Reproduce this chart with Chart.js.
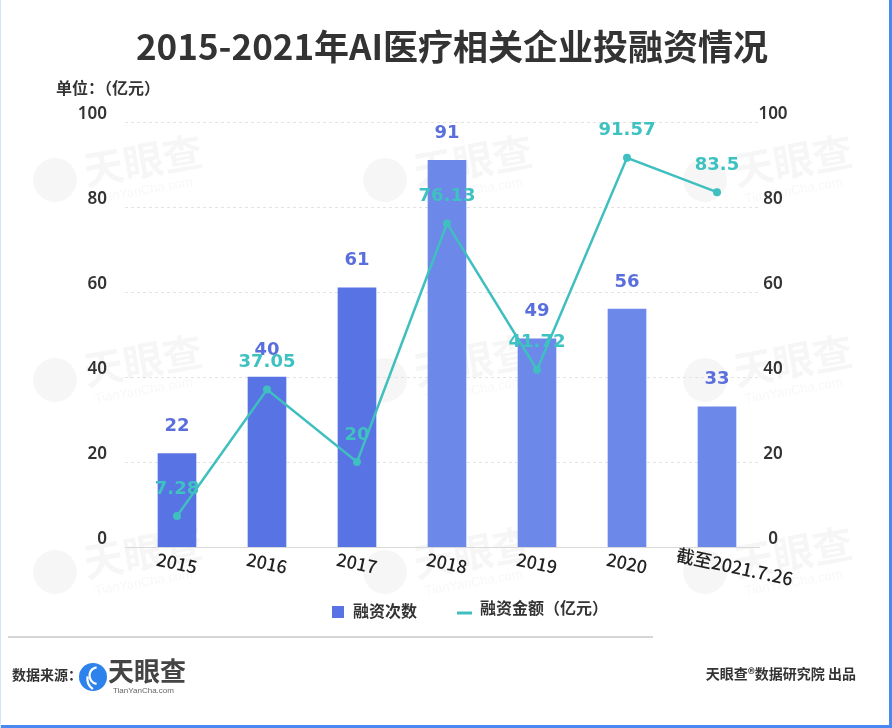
<!DOCTYPE html>
<html>
<head>
<meta charset="utf-8">
<script src="https://cdn.jsdelivr.net/npm/chart.js@4.4.1/dist/chart.umd.min.js"></script>
<style>
  html, body { margin: 0; padding: 0; background: #ffffff; }
  canvas { display: block; }
</style>
</head>
<body>
<canvas id="c" width="892" height="728"></canvas>
<script>
// ---- data ----
const titleText = '2015-2021年AI医疗相关企业投融资情况';
const unitText = '单位：（亿元）';
const categories = ['2015', '2016', '2017', '2018', '2019', '2020', '截至2021.7.26'];
const financingCounts = [22, 40, 61, 91, 49, 56, 33];
const financingAmounts = [7.28, 37.05, 20, 76.13, 41.72, 91.57, 83.5];
const amountLabels = ['7.28', '37.05', '20', '76.13', '41.72', '91.57', '83.5'];
const seriesNames = ['融资次数', '融资金额（亿元）'];
const sourceLabel = '数据来源：';
const brandName = '天眼查';
const brandUrl = 'TianYanCha.com';
const creditText = '天眼查®数据研究院 出品';

const CJK = "'Noto Sans CJK SC', 'Noto Sans', sans-serif";
const BAR_DARK = '#5873e3';
const BAR_LIGHT = '#6c88e9';
const TEAL = '#3fbfbf';

const barColors = financingCounts.map((v, i) => i < 3 ? BAR_DARK : BAR_LIGHT);

function drawLogo(ctx, cx, cy, r, color, alpha) {
  ctx.save();
  ctx.globalAlpha = alpha;
  ctx.fillStyle = color;
  ctx.beginPath();
  ctx.arc(cx, cy, r, 0, Math.PI * 2);
  ctx.fill();
  ctx.globalAlpha = 1;
  ctx.strokeStyle = '#ffffff';
  ctx.lineWidth = Math.max(1.5, r * 0.16);
  ctx.beginPath();
  ctx.arc(cx + r * 0.35, cy - r * 0.1, r * 0.6, Math.PI * 0.55, Math.PI * 1.45);
  ctx.stroke();
  ctx.beginPath();
  ctx.arc(cx + r * 0.55, cy + r * 0.1, r * 0.95, Math.PI * 0.7, Math.PI * 1.05);
  ctx.stroke();
  ctx.restore();
}

const decorPlugin = {
  id: 'decor',
  beforeDraw(chart) {
    const ctx = chart.ctx;
    ctx.save();
    ctx.fillStyle = '#ffffff';
    ctx.fillRect(0, 0, chart.width, chart.height);

    // watermarks
    const cols = [55, 385, 705];
    const rows = [180, 380, 572];
    rows.forEach(wy => cols.forEach(wx => {
      ctx.save();
      ctx.translate(wx, wy);
      ctx.rotate(-10 * Math.PI / 180);
      ctx.globalAlpha = 0.035;
      ctx.fillStyle = '#000';
      ctx.beginPath();
      ctx.arc(0, 0, 22, 0, Math.PI * 2);
      ctx.fill();
      ctx.font = "bold 40px " + CJK;
      ctx.textBaseline = 'middle';
      ctx.textAlign = 'left';
      ctx.fillText(brandName, 30, -4);
      ctx.font = "13px 'Liberation Sans', sans-serif";
      ctx.fillText(brandUrl, 36, 26);
      ctx.restore();
    }));

    // title
    ctx.fillStyle = '#333333';
    ctx.font = "bold 35px " + CJK;
    ctx.textAlign = 'center';
    ctx.textBaseline = 'middle';
    ctx.fillText(titleText, 452, 47);

    // unit
    ctx.font = "bold 16px " + CJK;
    ctx.textAlign = 'left';
    ctx.fillStyle = '#333333';
    ctx.fillText(unitText, 56, 88);

    // separator
    ctx.strokeStyle = '#d6d6d6';
    ctx.lineWidth = 2;
    ctx.beginPath();
    ctx.moveTo(8, 637);
    ctx.lineTo(653, 637);
    ctx.stroke();

    // footer
    ctx.fillStyle = '#333333';
    ctx.font = "bold 14px " + CJK;
    ctx.textAlign = 'left';
    ctx.fillText(sourceLabel, 12, 675);
    drawLogo(ctx, 93, 677, 14, '#2d82ec', 1);
    ctx.fillStyle = '#444444';
    ctx.font = "bold 26px " + CJK;
    ctx.fillText(brandName, 108, 671);
    ctx.fillStyle = '#666666';
    ctx.font = "8px 'Liberation Sans', sans-serif";
    ctx.fillText(brandUrl, 113, 691);
    ctx.fillStyle = '#333333';
    ctx.font = "bold 14px " + CJK;
    ctx.textAlign = 'right';
    ctx.fillText(creditText, 856, 674);

    // frame
    ctx.fillStyle = '#4a8af0';
    ctx.fillRect(889, 0, 3, 728);
    ctx.fillRect(0, 725, 892, 3);
    ctx.fillStyle = '#d4e4fb';
    ctx.fillRect(0, 0, 1, 728);

    // legend
    const ds = chart.data.datasets;
    ctx.fillStyle = BAR_DARK;
    ctx.fillRect(332, 606, 12, 12);
    ctx.fillStyle = '#333333';
    ctx.font = "bold 16px " + CJK;
    ctx.textAlign = 'left';
    ctx.textBaseline = 'middle';
    ctx.fillText(ds[0].label, 353, 611);
    ctx.strokeStyle = TEAL;
    ctx.lineWidth = 3;
    ctx.beginPath();
    ctx.moveTo(457, 613);
    ctx.lineTo(472, 613);
    ctx.stroke();
    ctx.fillText(ds[1].label, 480, 608);

    ctx.restore();
  },
  beforeDatasetsDraw(chart) {
    const ctx = chart.ctx;
    const y = chart.scales.y;
    const y1 = chart.scales.y1;
    const area = chart.chartArea;
    ctx.save();
    y.ticks.forEach(t => {
      const py = Math.round(y.getPixelForValue(t.value)) + 0.5;
      ctx.strokeStyle = t.value === 0 ? '#d9d9d9' : '#e3e3e3';
      ctx.lineWidth = 1;
      ctx.setLineDash(t.value === 0 ? [] : [3, 3]);
      ctx.beginPath();
      ctx.moveTo(area.left - 7, py);
      ctx.lineTo(area.right - 2, py);
      ctx.stroke();
    });
    ctx.setLineDash([]);
    ctx.fillStyle = '#333333';
    ctx.font = "600 17px 'Noto Sans', sans-serif";
    ctx.textBaseline = 'middle';
    y.ticks.forEach(t => {
      const py = y.getPixelForValue(t.value) - 8;
      ctx.textAlign = 'right';
      ctx.fillText(String(t.value), 107, py);
    });
    y1.ticks.forEach(t => {
      const py = y1.getPixelForValue(t.value) - 8;
      ctx.textAlign = 'center';
      ctx.fillText(String(t.value), 773, py);
    });

    // rotated x labels
    const x = chart.scales.x;
    ctx.fillStyle = '#222222';
    ctx.font = "500 18px " + CJK;
    categories.forEach((c, i) => {
      const px = x.getPixelForValue(i);
      ctx.save();
      ctx.translate(px, 563);
      ctx.rotate(12 * Math.PI / 180);
      ctx.textAlign = 'center';
      ctx.textBaseline = 'middle';
      ctx.fillText(c, i === categories.length - 1 ? 18 : 0, 0);
      ctx.restore();
    });
    ctx.restore();
  },
  afterDatasetsDraw(chart) {
    const ctx = chart.ctx;
    ctx.save();
    ctx.textAlign = 'center';
    ctx.textBaseline = 'middle';
    ctx.font = "bold 18px 'DejaVu Sans', sans-serif";
    const barMeta = chart.getDatasetMeta(0);
    ctx.fillStyle = '#5a6fdc';
    barMeta.data.forEach((el, i) => {
      ctx.fillText(String(financingCounts[i]), el.x, el.y - 27);
    });
    const lineMeta = chart.getDatasetMeta(1);
    ctx.fillStyle = '#3ec1c1';
    lineMeta.data.forEach((el, i) => {
      ctx.fillText(amountLabels[i], el.x, el.y - 27);
    });
    ctx.restore();
  }
};

new Chart(document.getElementById('c'), {
  data: {
    labels: categories,
    datasets: [
      {
        type: 'bar',
        label: seriesNames[0],
        data: financingCounts,
        backgroundColor: barColors,
        barThickness: 38,
        yAxisID: 'y',
        order: 2
      },
      {
        type: 'line',
        label: seriesNames[1],
        data: financingAmounts,
        borderColor: TEAL,
        backgroundColor: TEAL,
        borderWidth: 2.5,
        pointRadius: 4,
        pointHoverRadius: 4,
        pointBackgroundColor: TEAL,
        pointBorderWidth: 0,
        tension: 0,
        yAxisID: 'y1',
        order: 1
      }
    ]
  },
  options: {
    responsive: false,
    devicePixelRatio: 1,
    animation: false,
    layout: { padding: { left: 132, right: 130, top: 122, bottom: 181 } },
    plugins: {
      legend: { display: false },
      title: { display: false },
      tooltip: { enabled: false }
    },
    scales: {
      x: { display: false, offset: true, grid: { display: false } },
      y: { display: false, position: 'left', min: 0, max: 100, ticks: { stepSize: 20 } },
      y1: { display: false, position: 'right', min: 0, max: 100, ticks: { stepSize: 20 } }
    }
  },
  plugins: [decorPlugin]
});
</script>
</body>
</html>
